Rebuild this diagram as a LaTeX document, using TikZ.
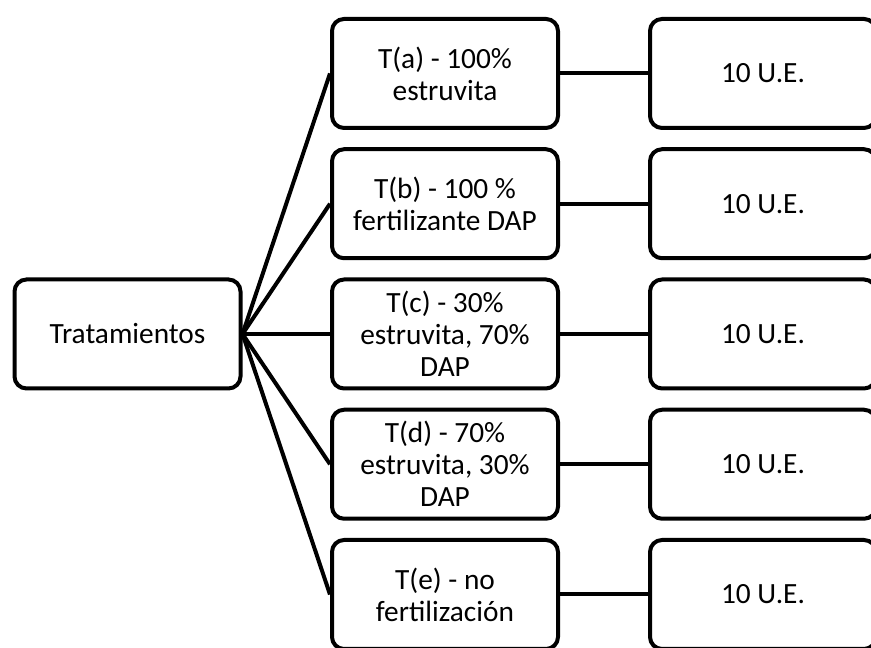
\documentclass[tikz,border=0pt]{standalone}
\usepackage{fontspec}
\setmainfont{Carlito}
\tikzset{
  caja/.style={draw, line width=3pt, rounded corners=9pt, minimum width=169.5pt,
    minimum height=81.75pt, align=center, font=\fontsize{22}{24}\selectfont},
  linea/.style={line width=3pt}
}
\begin{document}
\begin{tikzpicture}[x=0.75pt,y=0.75pt]
\useasboundingbox (0,0) rectangle (871,648);
\clip (0,0) rectangle (871,648);
% tratamientos
\node[caja] (trat) at (127.5,314) {Tratamientos};
\node[caja] (ta) at (445,574.5) {T(a) - 100\%\\estruvita};
\node[caja] (tb) at (445,444.25) {T(b) - 100 \%\\fertilizante DAP};
\node[caja] (tc) at (445,314) {T(c) - 30\%\\estruvita, 70\%\\DAP};
\node[caja] (td) at (445,183.75) {T(d) - 70\%\\estruvita, 30\%\\DAP};
\node[caja] (te) at (445,53.5) {T(e) - no\\fertilizaci\'on};
% unidades experimentales
\node[caja] (ua) at (763,574.5) {10 U.E.};
\node[caja] (ub) at (763,444.25) {10 U.E.};
\node[caja] (uc) at (763,314) {10 U.E.};
\node[caja] (ud) at (763,183.75) {10 U.E.};
\node[caja] (ue) at (763,53.5) {10 U.E.};
\draw[linea] (trat.east)--(ta.west);
\draw[linea] (trat.east)--(tb.west);
\draw[linea] (trat.east)--(tc.west);
\draw[linea] (trat.east)--(td.west);
\draw[linea] (trat.east)--(te.west);
\draw[linea] (ta)--(ua);
\draw[linea] (tb)--(ub);
\draw[linea] (tc)--(uc);
\draw[linea] (td)--(ud);
\draw[linea] (te)--(ue);
\end{tikzpicture}
\end{document}
